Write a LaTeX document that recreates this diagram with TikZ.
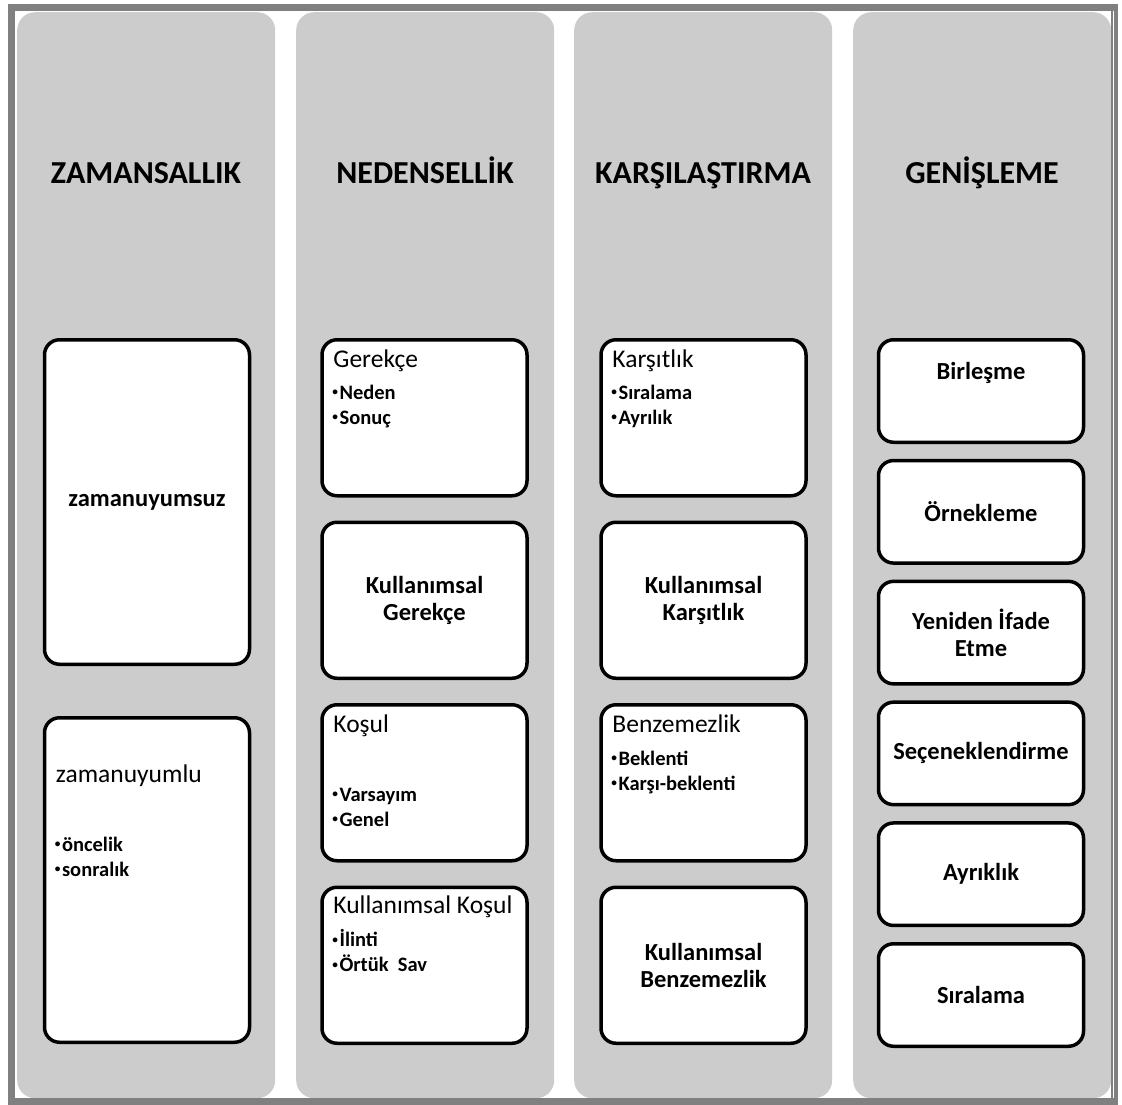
\documentclass[tikz,border=0pt]{standalone}
\usepackage{fontspec}
\usepackage{graphicx}
\setmainfont{Carlito}
\usetikzlibrary{positioning}

\newcommand{\itm}{\raisebox{0.32ex}{\scalebox{0.55}{\textbullet}}\hspace{1.5pt}}

\tikzset{
	lane/.style={fill=gray!40, rounded corners=18pt, minimum width=258pt, minimum height=1086pt, inner sep=0pt, anchor=north west},
	head/.style={anchor=base, inner sep=0pt, font=\fontsize{32}{38}\selectfont\bfseries},
	card/.style={draw, fill=white, line width=3.5pt, rounded corners=15pt, minimum width=205pt, inner sep=0pt, anchor=north},
	bigcard/.style={card, minimum height=324.5pt},
	halfcard/.style={card, minimum height=156pt},
	smallcard/.style={card, minimum height=102.5pt},
	cardtitle/.style={anchor=base west, inner sep=0pt, font=\fontsize{25.5}{29}\selectfont},
	items/.style={anchor=base west, inner sep=0pt, align=left, font=\fontsize{20.5}{25}\selectfont\bfseries},
	cardtext/.style={inner sep=0pt, align=center, font=\fontsize{24.5}{26.5}\selectfont\bfseries}
}

\begin{document}
\begin{tikzpicture}[x=1pt, y=-1pt]
		\useasboundingbox (0,0) rectangle (1122,1104);
		
		% lanes
		\node[lane] (l1) at (17,12) {};
		\node[lane] (l2) at (296,12) {};
		\node[lane] (l3) at (574,12) {};
		\node[lane] (l4) at (853,12) {};
		
		\node[head] (h1) at (146,183) {ZAMANSALLIK};
		\node[head] (h2) at (425,183) {NEDENSELLİK};
		\node[head] (h3) at (703,183) {KARŞILAŞTIRMA};
		\node[head] (h4) at (982,183) {GENİŞLEME};
		
		% zamansallik
		\node[bigcard] (c11) at (147,338) {};
		\node[bigcard, below=50pt of c11] (c12) {};
		\node[cardtext] (t11) at (c11.center) {zamanuyumsuz};
		\node[cardtitle] (t12) at ([xshift=13pt, yshift=-66pt]c12.north west) {zamanuyumlu};
		\node[items] (i12) at ([xshift=12pt, yshift=-160pt]c12.north west) {\itm öncelik\\\itm sonralık};
		
		% nedensellik
		\node[halfcard] (c21) at (424.5,338) {};
		\node[halfcard, below=23pt of c21] (c22) {};
		\node[halfcard, below=23pt of c22] (c23) {};
		\node[halfcard, below=23pt of c23] (c24) {};
		\node[cardtitle] (t21) at ([xshift=13pt, yshift=-29pt]c21.north west) {Gerekçe};
		\node[items] (i21) at ([xshift=12pt, yshift=-86pt]c21.north west) {\itm Neden\\\itm Sonuç};
		\node[cardtext] (t22) at (c22.center) {Kullanımsal\\Gerekçe};
		\node[cardtitle] (t23) at ([xshift=13pt, yshift=-29pt]c23.north west) {Koşul};
		\node[items] (i23) at ([xshift=12pt, yshift=-123pt]c23.north west) {\itm Varsayım\\\itm Genel};
		\node[cardtitle] (t24) at ([xshift=13pt, yshift=-28pt]c24.north west) {Kullanımsal Koşul};
		\node[items] (i24) at ([xshift=12pt, yshift=-86pt]c24.north west) {\itm İlinti\\\itm Örtük~ Sav};
		
		% karsilastirma
		\node[halfcard] (c31) at (703.5,338) {};
		\node[halfcard, below=23pt of c31] (c32) {};
		\node[halfcard, below=23pt of c32] (c33) {};
		\node[halfcard, below=23pt of c33] (c34) {};
		\node[cardtitle] (t31) at ([xshift=13pt, yshift=-29pt]c31.north west) {Karşıtlık};
		\node[items] (i31) at ([xshift=12pt, yshift=-86pt]c31.north west) {\itm Sıralama\\\itm Ayrılık};
		\node[cardtext] (t32) at (c32.center) {Kullanımsal\\Karşıtlık};
		\node[cardtitle] (t33) at ([xshift=13pt, yshift=-29pt]c33.north west) {Benzemezlik};
		\node[items] (i33) at ([xshift=12pt, yshift=-87pt]c33.north west) {\itm Beklenti\\\itm Karşı-beklenti};
		\node[cardtext] (t34) at (c34.center) {Kullanımsal\\Benzemezlik};
		
		% genisleme
		\node[smallcard] (c41) at (981,338) {};
		\node[smallcard, below=14.8pt of c41] (c42) {};
		\node[smallcard, below=14.8pt of c42] (c43) {};
		\node[smallcard, below=14.8pt of c43] (c44) {};
		\node[smallcard, below=14.8pt of c44] (c45) {};
		\node[smallcard, below=14.8pt of c45] (c46) {};
		\node[cardtext, anchor=base] (t41) at ([yshift=-41pt]c41.north) {Birleşme};
		\node[cardtext] (t42) at (c42.center) {Örnekleme};
		\node[cardtext, font=\fontsize{24.5}{27}\selectfont\bfseries] (t43) at (c43.center) {Yeniden İfade\\Etme};
		\node[cardtext] (t44) at (c44.center) {Seçeneklendirme};
		\node[cardtext] (t45) at (c45.center) {Ayrıklık};
		\node[cardtext] (t46) at (c46.center) {Sıralama};
		
		% frame
		\draw[black!50, line width=7pt] (11.5,7.5) rectangle (1114,1101);
		\draw[white, line width=0.8pt] (1113.5,11) -- (1113.5,1098);
	\end{tikzpicture}
\end{document}
